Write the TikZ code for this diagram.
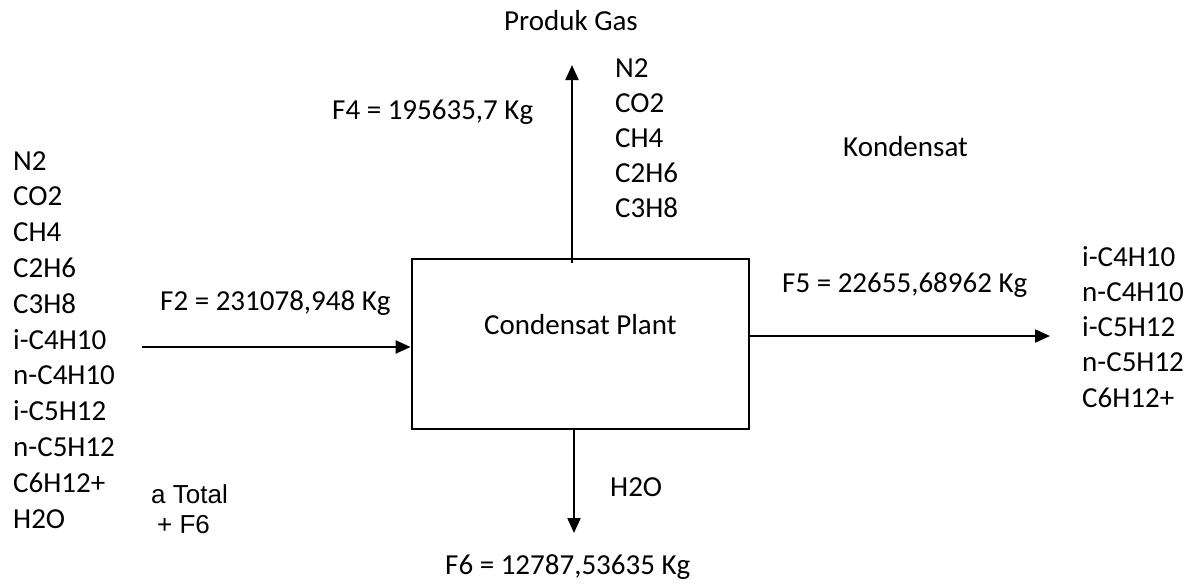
\documentclass[tikz,border=0pt]{standalone}
\usepackage{fontspec}
\setmainfont{Carlito}
\newfontfamily\arialf{Liberation Sans}
\usetikzlibrary{arrows.meta}
\begin{document}
\begin{tikzpicture}[x=1pt,y=-1pt,
  lbl/.style={font=\fontsize{29}{35}\selectfont, inner sep=0pt, anchor=base west},
  albl/.style={font=\arialf\fontsize{26}{30}\selectfont, inner sep=0pt, anchor=base west},
  flow/.style={line width=2.2pt, -{Triangle[length=15pt,width=13pt]}},
  plantbox/.style={draw, line width=2.8pt, minimum width=337pt, minimum height=170pt, inner sep=0pt}]
\useasboundingbox (0,0) rectangle (1195,587);
% box
\node[plantbox] (box) at (580.5,344) {};
\node[lbl] (plant) at (484,334) {Condensat Plant};
% left feed list
\foreach \t [count=\i from 0] in {N2,CO2,CH4,C2H6,C3H8,i-C4H10,n-C4H10,i-C5H12,n-C5H12,C6H12+,H2O}
  \node[lbl] (feed\i) at (13,{170+35.8*\i}) {\t};
% top gas list
\foreach \t [count=\i from 0] in {N2,CO2,CH4,C2H6,C3H8}
  \node[lbl] (gas\i) at (615,{77+35.2*\i}) {\t};
% right condensate list
\foreach \t [count=\i from 0] in {i-C4H10,n-C4H10,i-C5H12,n-C5H12,C6H12+}
  \node[lbl] (kond\i) at (1082,{266+35.3*\i}) {\t};
% labels
\node[lbl] (produk) at (504,30) {Produk Gas};
\node[lbl] (f4) at (332,119) {F4 = 195635,7 Kg};
\node[lbl] (f2) at (160,310) {F2 = 231078,948 Kg};
\node[lbl] (kondensat) at (843,156) {Kondensat};
\node[lbl] (f5) at (782,292) {F5 = 22655,68962 Kg};
\node[lbl] (h2o) at (610,496) {H2O};
\node[lbl] (f6) at (445,574) {F6 = 12787,53635 Kg};
\node[albl] (atotal) at (151,503) {a Total};
\node[albl] (plusf6) at (157,533) {+ F6};
% arrows
\coordinate (inA) at (142,347);
\draw[flow] (inA) -- (inA -| box.west);
\coordinate (upA) at (572,263);
\coordinate (upB) at (572,65);
\draw[flow] (upA) -- (upB);
\coordinate (rtB) at (1050,336);
\draw[flow] (box.east |- rtB) -- (rtB);
\coordinate (dnA) at (574,429);
\coordinate (dnB) at (574,533);
\draw[flow] (dnA) -- (dnB);
\end{tikzpicture}
\end{document}
